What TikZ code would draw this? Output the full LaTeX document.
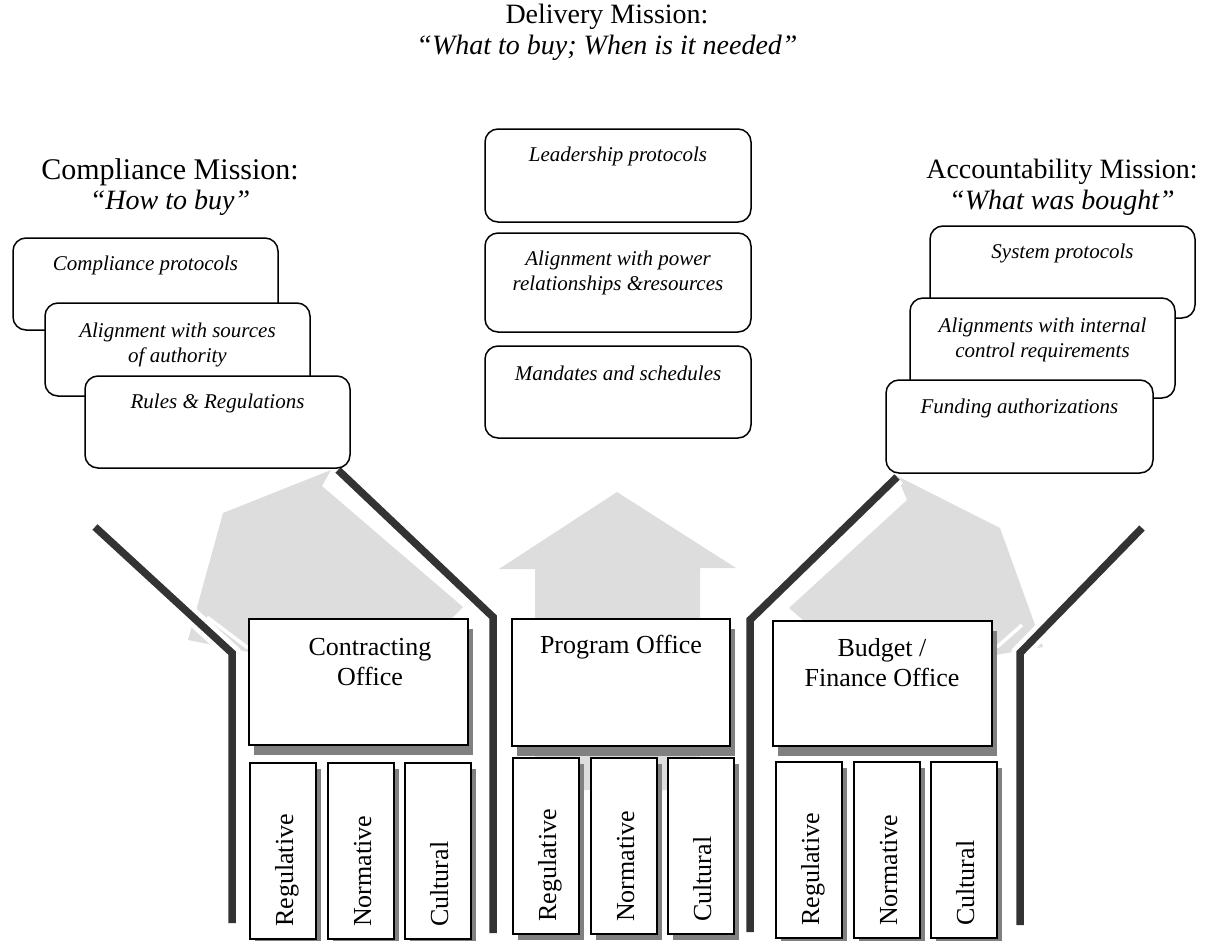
\documentclass[tikz,border=0pt]{standalone}
\usepackage{fontspec}
\setmainfont{Liberation Serif}
\usetikzlibrary{shadows}
\definecolor{arrowgray}{HTML}{DDDDDD}
\definecolor{wallgray}{HTML}{333333}
\definecolor{shadegray}{HTML}{808080}

\begin{document}
\begin{tikzpicture}[x=1pt,y=-1pt,
  titletext/.style={inner sep=0pt, font=\fontsize{28}{32}\selectfont},
  quotetext/.style={inner sep=0pt, font=\fontsize{28}{32}\selectfont\itshape},
  roundbox/.style={draw=black, line width=1.5pt, rounded corners=13pt, fill=white, inner sep=0pt},
  boxtext/.style={inner sep=0pt, align=center, font=\fontsize{21}{25}\selectfont\itshape},
  officebox/.style={draw=black, line width=1.5pt, fill=white, inner sep=0pt,
    drop shadow={shadow xshift=5pt, shadow yshift=-10pt, fill=shadegray, opacity=1}},
  officetext/.style={inner sep=0pt, align=center, font=\fontsize{26}{30}\selectfont},
  pillar/.style={draw=black, line width=1.5pt, fill=white, inner sep=0pt, anchor=north west,
    minimum width=66pt, minimum height=176pt,
    drop shadow={shadow xshift=5pt, shadow yshift=-6pt, fill=shadegray, opacity=1}},
  pillartext/.style={inner sep=0pt, rotate=90, anchor=base west, font=\fontsize{26}{30}\selectfont},
  wall/.style={draw=wallgray, line width=7.5pt, line join=miter, line cap=butt},
  wallhalo/.style={draw=white, line width=17pt, line join=miter, line cap=butt},
  gap/.style={draw=white, line width=3.5pt}
]
\useasboundingbox (0,0) rectangle (1212,940);

% ---- mission headings ----
\node[titletext] (dm) at (607,17) {Delivery Mission:};
\node[quotetext] (dq) at (607,48) {“What to buy; When is it needed”};
\node[titletext, font=\fontsize{30}{34}\selectfont] (cm) at (170,172) {Compliance Mission:};
\node[quotetext] (cq) at (170,203) {“How to buy”};
\node[titletext] (am) at (1062,172) {Accountability Mission:};
\node[quotetext] (aq) at (1062,203) {“What was bought”};

% ---- light grey upward arrows ----
\fill[arrowgray] (223,513) -- (331,470) -- (322,486) -- (463,607) -- (452,618)
  -- (452,652) -- (249,652) -- (188,640) -- cycle;
\fill[arrowgray] (617,492) -- (736,568) -- (700,568) -- (700,790) -- (535,790)
  -- (535,569) -- (499,569) -- cycle;
\fill[arrowgray] (897,476) -- (1000,528) -- (1043,647) -- (995,655) -- (803,655)
  -- (803,620) -- (789,608) -- (907,500) -- cycle;
\draw[gap] (207,617) -- (248,648);
\draw[gap] (1022,625) -- (997,647);

% ---- channel walls ----
\coordinate (w1a) at (95,527);   \coordinate (w1b) at (232,653);  \coordinate (w1c) at (232,923);
\coordinate (w2a) at (338,470);  \coordinate (w2b) at (493,617);  \coordinate (w2c) at (493,933);
\coordinate (w3a) at (897,477);  \coordinate (w3b) at (750,620);  \coordinate (w3c) at (750,932);
\coordinate (w4a) at (1142,528); \coordinate (w4b) at (1020,653); \coordinate (w4c) at (1020,925);
\foreach \p in {1,2,3,4} {
  \draw[wallhalo] (w\p a) -- (w\p b) -- (w\p c);
}
\foreach \p in {1,2,3,4} {
  \draw[wall] (w\p a) -- (w\p b) -- (w\p c);
}

% ---- compliance stack ----
\node[roundbox, minimum width=265pt, minimum height=92pt] (cprot) at (145.5,284) {};
\node[boxtext] (cprot-t) at (145.5,265) {Compliance protocols};
\node[roundbox, minimum width=265pt, minimum height=93pt] (calign) at (177.5,349.5) {};
\node[boxtext] (calign-t) at (177.5,344.5) {Alignment with sources\\of authority};
\node[roundbox, minimum width=265pt, minimum height=92pt] (crules) at (217.5,422) {};
\node[boxtext] (crules-t) at (217.5,403) {Rules \& Regulations};

% ---- delivery stack ----
\node[roundbox, minimum width=266pt, minimum height=93pt] (dlead) at (618,175.5) {};
\node[boxtext] (dlead-t) at (618,156) {Leadership protocols};
\node[roundbox, minimum width=266pt, minimum height=99pt] (dalign) at (618,282.5) {};
\node[boxtext] (dalign-t) at (618,272.5) {Alignment with power\\relationships \&resources};
\node[roundbox, minimum width=266pt, minimum height=92pt] (dmand) at (618,392) {};
\node[boxtext] (dmand-t) at (618,373) {Mandates and schedules};

% ---- accountability stack ----
\node[roundbox, minimum width=265pt, minimum height=92pt] (asys) at (1062.5,272) {};
\node[boxtext] (asys-t) at (1062.5,253) {System protocols};
\node[roundbox, minimum width=265pt, minimum height=100pt] (aalign) at (1042.5,348) {};
\node[boxtext] (aalign-t) at (1042.5,339.5) {Alignments with internal\\control requirements};
\node[roundbox, minimum width=267pt, minimum height=93pt] (afund) at (1019.5,426.5) {};
\node[boxtext] (afund-t) at (1019.5,408) {Funding authorizations};

% ---- offices ----
\node[officebox, minimum width=219pt, minimum height=126pt] (cont) at (358.5,682) {};
\node[officetext] (cont-t) at (370,662) {Contracting\\Office};
\node[officebox, minimum width=218pt, minimum height=127pt] (prog) at (621,682.5) {};
\node[officetext] (prog-t) at (621,647) {Program Office};
\node[officebox, minimum width=219pt, minimum height=125pt] (budg) at (882.5,683.5) {};
\node[officetext] (budg-t) at (882,663) {Budget /\\Finance Office};

% ---- institutional pillars ----
\foreach \nm/\x/\y in {c/249/762, p/512/757, b/775/761} {
  \node[pillar] (\nm-reg) at (\x,\y) {};
  \node[pillar] (\nm-nor) at (\x+78,\y) {};
  \node[pillar] (\nm-cul) at (\x+155,\y) {};
  \node[pillartext] (\nm-reg-t) at (\x+44,\y+165) {Regulative};
  \node[pillartext] (\nm-nor-t) at (\x+122,\y+165) {Normative};
  \node[pillartext] (\nm-cul-t) at (\x+199,\y+165) {Cultural};
}
\end{tikzpicture}
\end{document}
